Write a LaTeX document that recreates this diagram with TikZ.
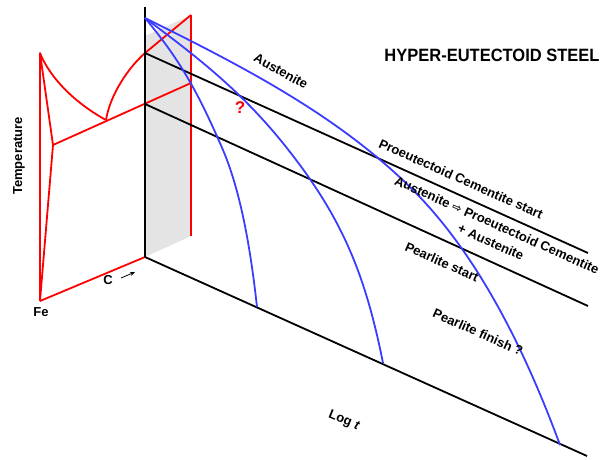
\documentclass[tikz,border=0pt]{standalone}
\usepackage{fontspec}
\setmainfont{Liberation Sans}
\newfontfamily\symfont{DejaVu Sans}
\usetikzlibrary{arrows.meta}
\definecolor{redline}{RGB}{255,0,0}
\definecolor{blueline}{RGB}{60,60,255}
\definecolor{grayfill}{RGB}{228,228,228}
\tikzset{
  redl/.style={draw=redline, line width=1.8pt, line join=round},
  blackl/.style={draw=black, line width=1.8pt},
  bluel/.style={draw=blueline, line width=1.8pt},
  lbl/.style={font=\bfseries\fontsize{13}{15}\selectfont, inner sep=0pt},
}
\begin{document}
\begin{tikzpicture}[x=1pt,y=-1pt]
\useasboundingbox (0,0) rectangle (601,459);
% key points
\coordinate (axT) at (145,7);
\coordinate (O) at (145,257);
\coordinate (acm) at (145,53);
\coordinate (aone) at (145,104);
\coordinate (st) at (145,18);
\coordinate (fe) at (40,301);
\coordinate (feT) at (40,53);
\coordinate (dpt) at (53,145);
\coordinate (eut) at (106,120);
\coordinate (rT) at (191,15);
\coordinate (rB) at (191,236);
\coordinate (rM) at (191,83);
\coordinate (gT) at (145,36);
\coordinate (endU) at (588,253);
\coordinate (endM) at (588,306);
\coordinate (endB) at (587,456);
\coordinate (ba) at (223,150);
\coordinate (bA) at (257,307);
\coordinate (bb) at (290,152);
\coordinate (bB) at (383,363);
\coordinate (bc) at (413,190);
\coordinate (bC) at (560,445);
% gray plane
\fill[grayfill] (gT) -- (rT) -- (rB) -- (O) -- cycle;
% red Fe-C diagram
\draw[redl] (fe) -- (feT) -- (dpt) -- (fe);
\draw[redl] (fe) -- (O);
\draw[redl] (dpt) -- (rM);
\draw[redl] (feT) .. controls (50,78) and (75,103) .. (eut);
\draw[redl] (eut) .. controls (110,95) and (128,68) .. (acm) -- (rT);
\draw[redl] (rT) -- (rB);
% black axes and lines
\draw[blackl] (axT) -- (O);
\draw[blackl] (acm) -- (endU);
\draw[blackl] (aone) -- (endM);
\draw[blackl] (O) -- (endB);
% blue curves
\draw[bluel] (st) .. controls (180,60) and (198,92) .. (ba)
                  .. controls (243,197) and (252,262) .. (bA);
\draw[bluel] (st) .. controls (200,59) and (245,94) .. (bb)
                  .. controls (344,221) and (366,278) .. (bB);
\draw[bluel] (st) .. controls (240,65) and (338,115) .. (bc)
                  .. controls (478,255) and (525,350) .. (bC);
% labels
\node[lbl, rotate=-29] (aus) at (281,71) {Austenite};
\node[lbl, text=redline, font=\bfseries\fontsize{17}{20}\selectfont] (q) at (240,108) {?};
\node[inner sep=0pt, yscale=1.08, font=\bfseries\fontsize{16.5}{19}\selectfont] (title) at (492,55) {HYPER-EUTECTOID STEEL};
\node[lbl, rotate=90] (temp) at (19,156) {Temperature};
\node[lbl] (felbl) at (41,312) {Fe};
\node[lbl] (clbl) at (108,280) {C};
\coordinate (ca) at (121,278);
\coordinate (cb) at (135,272);
\draw[line width=0.8pt, -{Stealth[length=5pt,width=4pt]}] (ca) -- (cb);
\node[lbl, rotate=-24] (pcs) at (461,179) {Proeutectoid Cementite start};
\node[lbl, rotate=-24] (apc) at (497,225) {Austenite {\symfont\fontsize{11.5}{12}\selectfont ⇨} Proeutectoid Cementite};
\node[lbl, rotate=-24] (pa) at (491,242) {+ Austenite};
\node[lbl, rotate=-24] (ps) at (442,262) {Pearlite start};
\node[lbl, rotate=-24] (pf) at (478,332) {Pearlite finish ?};
\node[lbl, rotate=-22] (logt) at (344,421) {Log \textit{t}};
\end{tikzpicture}
\end{document}
